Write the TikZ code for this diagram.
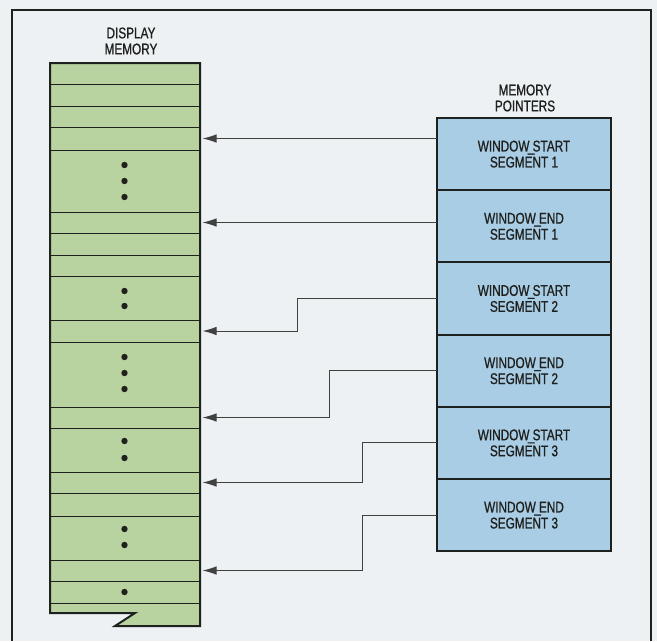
\documentclass[tikz,border=0pt]{standalone}
\usepackage{fontspec}
\setmainfont[FakeStretch=0.76,FakeBold=0.9]{Liberation Sans}
\usetikzlibrary{arrows.meta,positioning}
\definecolor{paper}{RGB}{238,241,244}
\definecolor{memgreen}{RGB}{185,211,160}
\definecolor{ptrblue}{RGB}{170,205,230}
\definecolor{ink}{RGB}{30,33,30}

\begin{document}
\begin{tikzpicture}[x=1pt,y=-1pt,>={Latex[length=14pt,width=8.5pt]},
  lbl/.style={align=center,font=\fontsize{15.5}{16}\selectfont,text=ink,inner sep=0pt},
  ptr/.style={draw=ink,line width=2pt,fill=ptrblue,outer sep=0pt,minimum width=174pt,minimum height=72.2pt,align=center,font=\fontsize{15.5}{16}\selectfont,text=ink},
  conn/.style={draw=ink!85,line width=1pt}]
  \useasboundingbox (0,0) rectangle (657,641);
  \fill[paper] (0,0) rectangle (657,641);
  \draw[ink,line width=1.3pt] (12,641) -- (12,10) -- (651,10) -- (651,641);
  \fill[memgreen] (50,63) -- (200,63) -- (200,626) -- (115,626) -- (135,613) -- (50,613) -- cycle;
  \foreach \y in {84,106,127,150,212,233,255,276,320,342,407,428,472,493,516,560,581,603}
    \draw[ink,line width=0.9pt] (50,\y) -- (200,\y);
  \foreach \y in {165,181,197,291,306,357,373,389,441,458,529,545,592}
    \fill[ink] (124.5,\y) circle (3.2);
  \draw[ink,line width=2pt,line join=miter] (50,63) -- (200,63) -- (200,626) -- (115,626) -- (135,613) -- (50,613) -- cycle;
  \node[lbl] (dmem) at (131,41) {DISPLAY\\MEMORY};
  \foreach \i/\y in {1/138.5,2/222.5,3/331,4/417.5,5/482.5,6/570.5}
    \coordinate (m\i) at (202.5,\y);
  \foreach \w/\s [count=\i] in {START/1,END/1,START/2,END/2,START/3,END/3}
    \node[ptr] (p\i) at (524,{118+72.2*(\i-0.5)}) {WINDOW\kern-.1em\_\kern-.12em\w\\SEGMENT \s};
  \node[lbl] (mptr) at (525,98) {MEMORY\\POINTERS};
  \draw[conn,->] (p1.west |- m1) -- (m1);
  \draw[conn,->] (p2.west |- m2) -- (m2);
  \foreach \i/\dx in {3/140,4/108,5/75,6/75}
    \draw[conn,->] (p\i.west) -- ++(-\dx,0) |- (m\i);
\end{tikzpicture}
\end{document}
